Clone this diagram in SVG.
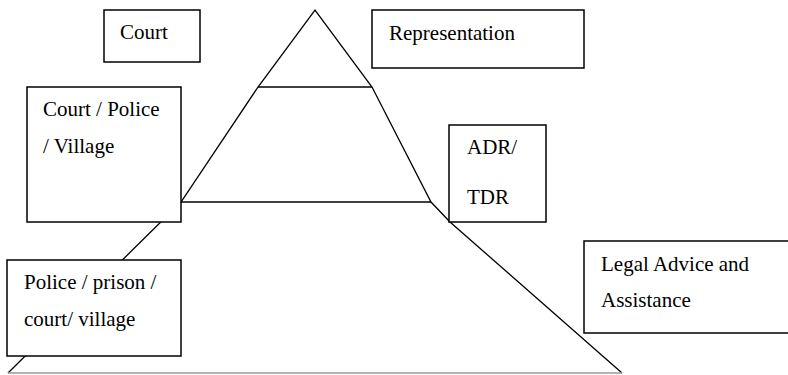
<svg xmlns="http://www.w3.org/2000/svg" width="788" height="375" viewBox="0 0 788 375">
  <style>
    .edge { fill: none; stroke: #000; stroke-width: 1.3; }
    .base { fill: none; stroke: #9a9a9a; stroke-width: 1.3; }
    .box { fill: #fff; stroke: #000; stroke-width: 1.5; }
    text { font-family: 'Liberation Serif', 'DejaVu Serif', serif; font-size: 21px; fill: #000; }
  </style>
  <rect width="788" height="375" fill="#fff"/>

  <!-- pyramid outline and level dividers -->
  <g id="connectors">
    <polyline class="edge" points="8,373 181,202 258,87 315,10 372,87 431,202 450,222 622,373"/>
    <line class="edge" x1="258" y1="87" x2="372" y2="87"/>
    <line class="edge" x1="181" y1="202" x2="431" y2="202"/>
    <line class="base" x1="8" y1="373" x2="622" y2="373"/>
  </g>

  <g id="court">
    <rect class="box" x="104" y="10" width="96" height="52"/>
    <text x="120" y="39" font-family="Liberation Serif, serif">Court</text>
  </g>

  <g id="representation">
    <rect class="box" x="372" y="10" width="212" height="58"/>
    <text x="389" y="40" font-family="Liberation Serif, serif">Representation</text>
  </g>

  <g id="court-police-village">
    <rect class="box" x="27" y="87" width="154" height="135"/>
    <text x="43" y="116" font-family="Liberation Serif, serif">Court / Police</text>
    <text x="43" y="153" font-family="Liberation Serif, serif">/ Village</text>
  </g>

  <g id="adr-tdr">
    <rect class="box" x="449" y="125" width="97" height="97"/>
    <text x="467" y="154" font-family="Liberation Serif, serif">ADR/</text>
    <text x="467" y="204" font-family="Liberation Serif, serif">TDR</text>
  </g>

  <g id="legal-advice">
    <rect class="box" x="584" y="241" width="210" height="92"/>
    <text x="601" y="271" font-family="Liberation Serif, serif">Legal Advice and</text>
    <text x="601" y="307" font-family="Liberation Serif, serif">Assistance</text>
  </g>

  <g id="police-prison-court-village">
    <rect class="box" x="7" y="260" width="174" height="96"/>
    <text x="24" y="289" font-family="Liberation Serif, serif">Police / prison /</text>
    <text x="24" y="326" font-family="Liberation Serif, serif">court/ village</text>
  </g>
</svg>
